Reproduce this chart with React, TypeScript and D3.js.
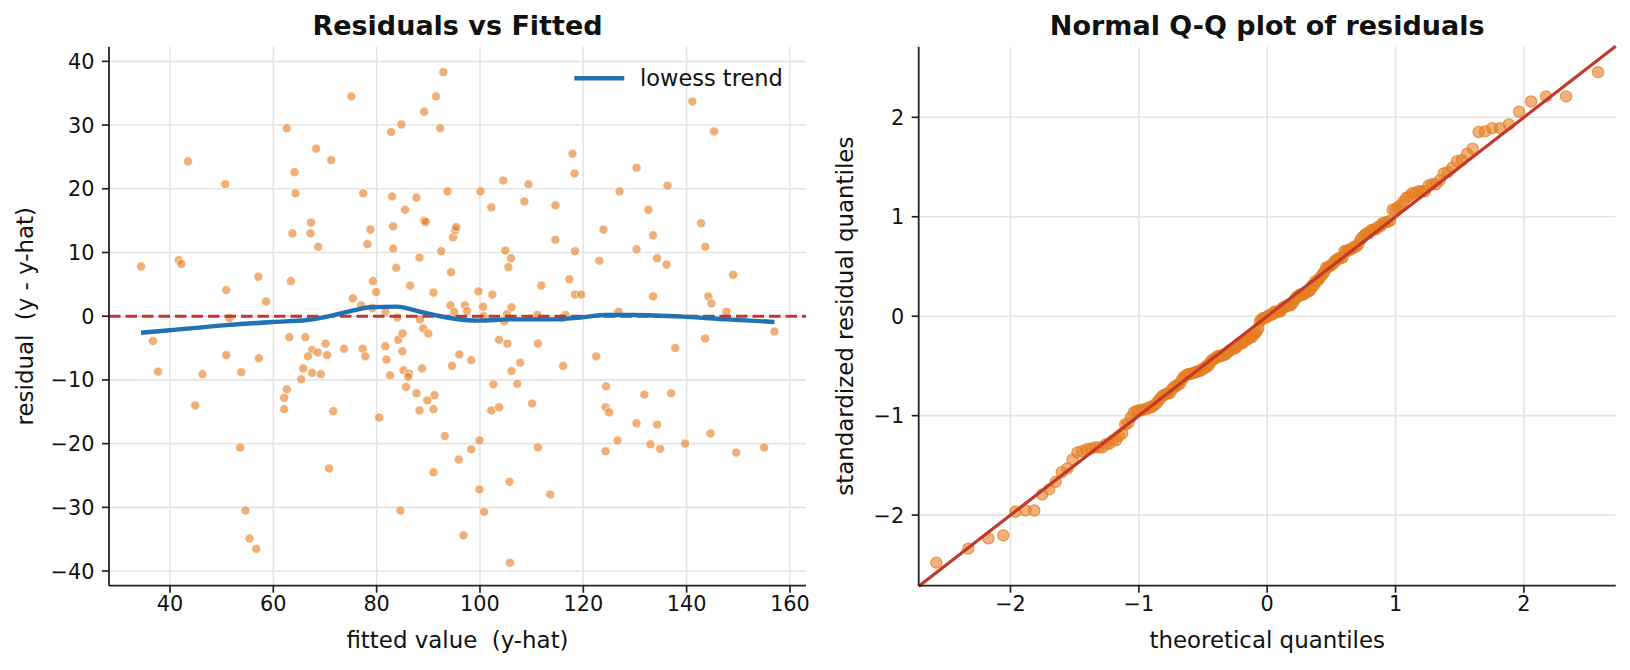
import React from "react";
import * as d3 from "d3";

// residual scatter: fitted value (x) and residual (y)
const fitted = [
  34.4, 41.7, 42.2, 43.5, 50.7, 50.9, 51.5, 57.1, 58.6, 62.6, 63.4, 64.1, 64.3, 63.7, 67.2, 67.3, 68.3, 68.7, 71.2, 75.1,
  75.4, 77.0, 79.2, 77.4, 78.8, 78.2, 79.3, 79.9, 81.7, 82.8, 84.8, 83.0, 83.2, 83.2, 83.8, 85.5, 86.5, 87.7, 88.3, 89.2,
  89.2, 89.5, 91.0, 91.5, 92.9, 92.3, 93.7, 92.5, 94.4, 94.3, 95.0, 94.8, 95.2, 95.4, 84.0, 88.4, 89.0,
  99.7, 100.1, 100.6, 102.4, 102.2, 104.5, 104.9, 106.0, 105.5, 106.1, 105.2, 97.1, 97.5, 108.6, 109.4, 111.9, 111.1, 114.6,
  114.6, 117.3, 116.6, 117.9, 118.3, 118.4, 118.4, 119.6, 123.1, 123.9, 127.0, 126.8, 130.3, 130.3, 132.6, 133.5, 134.3,
  136.1, 133.5, 136.3, 141.1, 145.3, 142.8, 143.6, 144.2, 144.8, 147.7, 149.0,
  36.7, 37.7, 44.9, 46.3, 50.9, 53.8, 53.6, 54.6, 55.4, 56.7, 57.2, 63.1, 66.2, 67.5, 68.6, 66.7, 70.1, 70.4, 65.8, 67.5,
  69.2, 65.4, 62.6, 62.1, 62.1, 71.6, 70.8, 73.7, 77.3, 77.8, 80.5, 81.7, 81.9, 82.6, 84.2, 85.0, 85.0, 85.2, 86.3, 86.1,
  88.8, 85.7, 87.7, 89.8, 91.2, 88.3, 91.0, 84.6, 91.0, 93.2, 90.0, 94.6, 96.0, 95.9,
  100.7, 104.7, 115.9, 157.0, 143.6, 137.8, 98.3, 103.7, 105.3, 111.2, 107.8, 106.1, 107.2, 102.6, 102.2, 103.7, 110.1,
  116.1, 122.5, 124.4, 124.3, 125.0, 131.8, 137.0, 130.3, 134.3, 126.6, 124.3, 133.0, 134.9, 139.7, 144.6, 149.6, 155.0,
  99.9, 98.3, 99.9, 100.8, 105.7, 111.2, 113.6, 96.8, 105.8,
];
const residuals = [
  7.8, 8.8, 8.2, 24.3, 20.7, 4.1, -0.3, 6.2, 2.3, 29.5, 5.5, 22.6, 19.3, 13.0, 13.0, 14.7, 26.3, 10.9, 24.5, 34.5,
  2.8, 1.7, 1.3, 19.3, 13.6, 11.3, 5.5, 3.8, 0.7, 28.9, 30.1, 18.8, 14.1, 10.6, 7.6, 16.7, 4.8, 18.6, 9.2, 32.1,
  15.0, 14.8, 3.7, 34.5, 38.3, 29.5, 19.6, 10.2, 6.9, 1.7, 0.7, 12.4, 13.5, 14.0, -0.2, -0.5, -1.9,
  3.9, 19.6, 1.5, 3.4, 17.1, 21.3, 10.3, 9.1, 7.7, 1.4, 0.3, 1.7, 0.8, 18.0, 20.7, 4.8, 0.2, 17.4,
  12.0, 5.8, 0.2, 25.5, 22.4, 10.2, 3.4, 3.4, 8.7, 13.6, 19.6, 0.7, 23.3, 10.5, 16.7, 12.7, 9.1,
  8.1, 3.1, 20.5, 33.7, 29.0, 14.6, 10.9, 3.1, 2.0, 0.7, 6.5,
  -3.9, -8.7, -14.0, -9.1, -6.1, -8.8, -20.6, -30.5, -34.9, -36.5, -6.6, -3.3, -3.3, -5.3, -5.7, -6.3, -4.3, -6.1, -8.2, -8.9,
  -9.1, -9.9, -11.5, -12.8, -14.6, -14.9, -23.9, -5.1, -5.1, -6.3, -15.9, -4.7, -6.8, -9.3, -3.7, -2.7, -5.5, -8.5, -9.0, -9.5,
  -8.2, -11.1, -12.1, -13.2, -12.4, -14.8, -14.6, -30.5, -24.5, -18.8, -2.7, -7.8, -6.0, -22.5,
  0.0, -0.8, -0.3, -2.4, -3.5, -5.0, -6.9, -3.7, -4.3, -4.3, -7.3, -8.6, -10.6, -10.7, -14.8, -14.3, -13.7,
  -7.8, -6.3, -11.0, -14.3, -15.1, -12.3, -12.1, -16.8, -17.0, -19.5, -21.2, -20.1, -20.8, -20.0, -18.4, -21.4, -20.6,
  -19.5, -20.9, -27.2, -30.7, -26.0, -20.6, -28.0, -34.4, -38.7,
];

// lowess trend
const lowessX = [34.4, 40, 51, 60, 66.5, 70.3, 75.5, 78.7, 83.9, 88.4, 93.6, 99.9, 105.5, 114.2, 119.4, 124.5, 129.7, 140, 147.7, 157];
const lowessY = [-2.6, -2.2, -1.4, -0.9, -0.6, -0.1, 0.9, 1.4, 1.5, 0.7, -0.2, -0.7, -0.5, -0.5, -0.2, 0.2, 0.2, -0.1, -0.5, -0.9];

const leftXTicks = [40, 60, 80, 100, 120, 140, 160];
const leftYTicks = [-40, -30, -20, -10, 0, 10, 20, 30, 40];
const qqTicks = [-2, -1, 0, 1, 2];

const FONT = "DejaVu Sans, Verdana, sans-serif";
const ORANGE = "#e67e22";
const RED = "#c0392b";
const BLUE = "#2171b5";
const INK = "#222";
const GRID = "#e4e4e4";

// inverse normal CDF (Acklam)
function normInv(p: number): number {
  const a = [-39.69683028665376, 220.9460984245205, -275.9285104469687, 138.357751867269, -30.66479806614716, 2.506628277459239];
  const b = [-54.47609879822406, 161.5858368580409, -155.6989798598866, 66.80131188771972, -13.28068155288572];
  const c = [-0.007784894002430293, -0.3223964580411365, -2.400758277161838, -2.549732539343734, 4.374664141464968, 2.938163982698783];
  const d = [0.007784695709041462, 0.3224671290700398, 2.445134137142996, 3.754408661907416];
  const pl = 0.02425;
  if (p < pl) {
    const q = Math.sqrt(-2 * Math.log(p));
    return (((((c[0] * q + c[1]) * q + c[2]) * q + c[3]) * q + c[4]) * q + c[5]) / ((((d[0] * q + d[1]) * q + d[2]) * q + d[3]) * q + 1);
  }
  if (p > 1 - pl) return -normInv(1 - p);
  const q = p - 0.5;
  const r = q * q;
  return ((((((a[0] * r + a[1]) * r + a[2]) * r + a[3]) * r + a[4]) * r + a[5]) * q) /
    (((((b[0] * r + b[1]) * r + b[2]) * r + b[3]) * r + b[4]) * r + 1);
}

const fmt = (v: number) => (v < 0 ? "\u2212" + Math.abs(v) : String(v));

const TOP = 46.7;
const BOTTOM = 585.7;
const L = { x0: 109, x1: 806 };
const R = { x0: 918.7, x1: 1615.7 };

export default function App() {
  // left panel scales
  const x1 = d3.scaleLinear().domain([28.2, 163.1]).range([L.x0, L.x1]);
  const y1 = d3.scaleLinear().domain([-42.3, 42.3]).range([BOTTOM, TOP]);

  const trend = d3.line<number>()
    .x((_, i) => x1(lowessX[i]))
    .y((v) => y1(v))
    .curve(d3.curveMonotoneX)(lowessY);

  // Q-Q panel
  const n = residuals.length;
  const mu = d3.mean(residuals) as number;
  const sd = d3.deviation(residuals) as number;
  const sorted = residuals.map((r) => (r - mu) / sd).sort(d3.ascending);
  const theo = sorted.map((_, i) => normInv((i + 1) / (n + 1)));

  const x2 = d3.scaleLinear().domain([-2.715, 2.715]).range([R.x0, R.x1]);
  const y2 = d3.scaleLinear().domain([-2.71, 2.71]).range([BOTTOM, TOP]);

  const tickFont = 20.8;
  const labelFont = 22.9;

  return (
    <svg width={1630} height={670} style={{ position: "absolute", left: 0, top: 0, background: "#fff" }} fontFamily={FONT}>
      {/* ---------- left: residuals vs fitted ---------- */}
      <g>
        {leftXTicks.map((t) => (
          <line key={"gx" + t} x1={x1(t)} x2={x1(t)} y1={TOP} y2={BOTTOM} stroke={GRID} strokeWidth={1.6} />
        ))}
        {leftYTicks.map((t) => (
          <line key={"gy" + t} x1={L.x0} x2={L.x1} y1={y1(t)} y2={y1(t)} stroke={GRID} strokeWidth={1.6} />
        ))}
        {fitted.map((f, i) => (
          <circle key={i} cx={x1(f)} cy={y1(residuals[i])} r={4.6} fill={ORANGE} fillOpacity={0.62} stroke="#fff" strokeWidth={0.8} />
        ))}
        <line x1={L.x0} x2={L.x1} y1={y1(0)} y2={y1(0)} stroke={RED} strokeWidth={3} strokeDasharray="11.5,5" />
        <path d={trend || ""} fill="none" stroke={BLUE} strokeWidth={4.4} strokeLinejoin="round" />

        {/* legend */}
        <line x1={574.3} x2={624.3} y1={78.3} y2={78.3} stroke={BLUE} strokeWidth={4.4} />
        <text x={640} y={86} fontSize={22.5} fill="#111">lowess trend</text>

        {/* spines */}
        <line x1={L.x0} x2={L.x0} y1={TOP} y2={BOTTOM} stroke={INK} strokeWidth={1.8} />
        <line x1={L.x0} x2={L.x1} y1={BOTTOM} y2={BOTTOM} stroke={INK} strokeWidth={1.8} />
        {leftXTicks.map((t) => (
          <g key={"tx" + t}>
            <line x1={x1(t)} x2={x1(t)} y1={BOTTOM} y2={BOTTOM + 7} stroke={INK} strokeWidth={1.7} />
            <text x={x1(t)} y={611} textAnchor="middle" fontSize={tickFont} fill="#111">{fmt(t)}</text>
          </g>
        ))}
        {leftYTicks.map((t) => (
          <g key={"ty" + t}>
            <line x1={L.x0 - 7} x2={L.x0} y1={y1(t)} y2={y1(t)} stroke={INK} strokeWidth={1.7} />
            <text x={L.x0 - 14.5} y={y1(t)} dy="0.36em" textAnchor="end" fontSize={tickFont} fill="#111">{fmt(t)}</text>
          </g>
        ))}
        <text x={(L.x0 + L.x1) / 2} y={35} textAnchor="middle" fontSize={27} fontWeight="bold" fill="#111">Residuals vs Fitted</text>
        <text x={(L.x0 + L.x1) / 2} y={648} textAnchor="middle" fontSize={labelFont} fill="#111" style={{ whiteSpace: "pre" }}>
          {"fitted value  (y-hat)"}
        </text>
        <text transform={`translate(33.3,${(TOP + BOTTOM) / 2}) rotate(-90)`} textAnchor="middle" fontSize={labelFont} fill="#111" style={{ whiteSpace: "pre" }}>
          {"residual  (y - y-hat)"}
        </text>
      </g>

      {/* ---------- right: normal Q-Q ---------- */}
      <g>
        {qqTicks.map((t) => (
          <g key={"qg" + t}>
            <line x1={x2(t)} x2={x2(t)} y1={TOP} y2={BOTTOM} stroke={GRID} strokeWidth={1.6} />
            <line x1={R.x0} x2={R.x1} y1={y2(t)} y2={y2(t)} stroke={GRID} strokeWidth={1.6} />
          </g>
        ))}
        {sorted.map((s, i) => (
          <circle key={i} cx={x2(theo[i])} cy={y2(s)} r={5.6} fill={ORANGE} fillOpacity={0.6} stroke={ORANGE} strokeOpacity={0.75} strokeWidth={1.2} />
        ))}
        <line x1={x2(-2.715)} y1={y2(-2.715)} x2={x2(2.715)} y2={y2(2.715)} stroke={RED} strokeWidth={3.2} />

        <line x1={R.x0} x2={R.x0} y1={TOP} y2={BOTTOM} stroke={INK} strokeWidth={1.8} />
        <line x1={R.x0} x2={R.x1} y1={BOTTOM} y2={BOTTOM} stroke={INK} strokeWidth={1.8} />
        {qqTicks.map((t) => (
          <g key={"qt" + t}>
            <line x1={x2(t)} x2={x2(t)} y1={BOTTOM} y2={BOTTOM + 7} stroke={INK} strokeWidth={1.7} />
            <text x={x2(t)} y={611} textAnchor="middle" fontSize={tickFont} fill="#111">{fmt(t)}</text>
            <line x1={R.x0 - 7} x2={R.x0} y1={y2(t)} y2={y2(t)} stroke={INK} strokeWidth={1.7} />
            <text x={R.x0 - 14.5} y={y2(t)} dy="0.36em" textAnchor="end" fontSize={tickFont} fill="#111">{fmt(t)}</text>
          </g>
        ))}
        <text x={(R.x0 + R.x1) / 2} y={35} textAnchor="middle" fontSize={27} fontWeight="bold" fill="#111">Normal Q-Q plot of residuals</text>
        <text x={(R.x0 + R.x1) / 2} y={648} textAnchor="middle" fontSize={labelFont} fill="#111">theoretical quantiles</text>
        <text transform={`translate(853,${(TOP + BOTTOM) / 2}) rotate(-90)`} textAnchor="middle" fontSize={labelFont} fill="#111">
          standardized residual quantiles
        </text>
      </g>
    </svg>
  );
}
